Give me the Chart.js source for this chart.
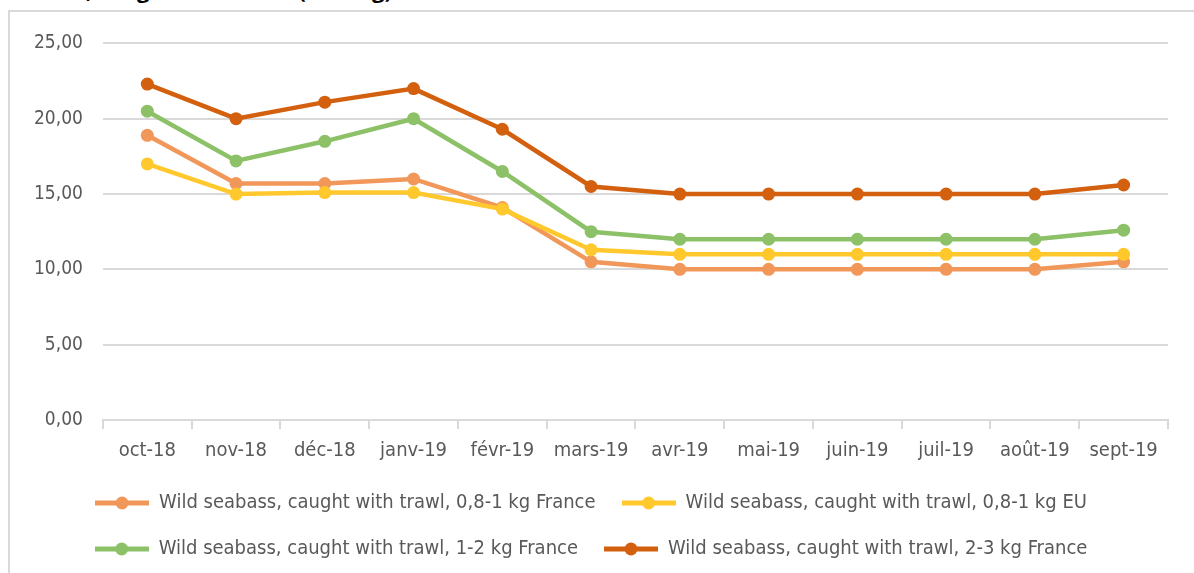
<!DOCTYPE html>
<html>
<head>
<meta charset="utf-8">
<script src="https://cdn.jsdelivr.net/npm/chart.js@4.4.1/dist/chart.umd.min.js"></script>
<style>
  html, body { margin: 0; padding: 0; background: #fff; overflow: hidden; }
  body { width: 1194px; height: 573px; position: relative; }
  #title { position: absolute; right: 802px; top: -26px; font: bold 22px "Open Sans", sans-serif; color: #000; white-space: nowrap; }
  #frame { position: absolute; left: 8px; top: 10px; width: 1186px; height: 563px; border-left: 2px solid #d9d9d9; border-top: 2px solid #d9d9d9; box-sizing: border-box; }
  #wrap { position: absolute; left: 0; top: 0; width: 1184px; height: 561px; }
</style>
</head>
<body>
<div id="title">Wild seabass, caught with trawl (EUR/kg)</div>
<div id="frame"><div id="wrap"><canvas id="priceChart"></canvas></div></div>
<script>
// Mois (axe des x)
const months = ['oct-18', 'nov-18', 'déc-18', 'janv-19', 'févr-19', 'mars-19', 'avr-19', 'mai-19', 'juin-19', 'juil-19', 'août-19', 'sept-19'];

const seriesNames = [
    'Wild seabass, caught with trawl, 0,8-1 kg France',
    'Wild seabass, caught with trawl, 0,8-1 kg EU',
    'Wild seabass, caught with trawl, 1-2 kg France',
    'Wild seabass, caught with trawl, 2-3 kg France'
];

// Prix (EUR/kg)
const france08 = [18.9, 15.7, 15.7, 16.0, 14.1, 10.5, 10.0, 10.0, 10.0, 10.0, 10.0, 10.5];
const eu08     = [17.0, 15.0, 15.1, 15.1, 14.0, 11.3, 11.0, 11.0, 11.0, 11.0, 11.0, 11.0];
const france12 = [20.5, 17.2, 18.5, 20.0, 16.5, 12.5, 12.0, 12.0, 12.0, 12.0, 12.0, 12.6];
const france23 = [22.3, 20.0, 21.1, 22.0, 19.3, 15.5, 15.0, 15.0, 15.0, 15.0, 15.0, 15.6];

const yTicks = [0, 5, 10, 15, 20, 25];

const colors = ['#F1975A', '#FFC92E', '#8CC168', '#D3600F'];

const fontFamily = '"DejaVu Sans Condensed", "Liberation Sans", sans-serif';

// petite image ligne + point pour la légende
function legendIcon(color) {
    const c = document.createElement('canvas');
    c.width = 54; c.height = 14;
    const g = c.getContext('2d');
    g.strokeStyle = color;
    g.lineWidth = 5;
    g.beginPath(); g.moveTo(0, 7); g.lineTo(54, 7); g.stroke();
    g.fillStyle = color;
    g.beginPath(); g.arc(27, 7, 6.5, 0, Math.PI * 2); g.fill();
    return c;
}

document.addEventListener('DOMContentLoaded', function() {
    const ctx = document.getElementById('priceChart').getContext('2d');
    const allData = [france08, eu08, france12, france23];

    new Chart(ctx, {
        type: 'line',
        data: {
            labels: months,
            datasets: allData.map(function(d, i) {
                return {
                    label: seriesNames[i],
                    data: d,
                    borderColor: colors[i],
                    backgroundColor: colors[i],
                    borderWidth: 4.5,
                    pointRadius: 6.5,
                    pointHoverRadius: 6.5,
                    pointBorderWidth: 0,
                    tension: 0,
                    order: 4 - i
                };
            })
        },
        options: {
            responsive: true,
            maintainAspectRatio: false,
            animation: false,
            layout: { padding: { left: 4, right: 26, top: 5, bottom: 4 } },
            scales: {
                y: {
                    min: 0,
                    max: 25,
                    afterBuildTicks: function(axis) {
                        axis.ticks = yTicks.map(function(v) { return { value: v }; });
                    },
                    border: { display: false },
                    grid: { color: '#d9d9d9', lineWidth: 2, drawTicks: false },
                    ticks: {
                        padding: 20,
                        color: '#595959',
                        font: { family: fontFamily, size: 19 },
                        callback: function(v) { return v.toFixed(2).replace('.', ','); }
                    }
                },
                x: {
                    offset: true,
                    afterFit: function(scale) { scale.height -= 6; },
                    border: { display: true, color: '#d9d9d9', width: 2 },
                    grid: { offset: true, drawOnChartArea: false, drawTicks: true, tickLength: 9, color: '#d9d9d9', lineWidth: 2 },
                    ticks: {
                        padding: 10,
                        maxRotation: 0,
                        autoSkip: false,
                        color: '#595959',
                        font: { family: fontFamily, size: 20 }
                    }
                }
            },
            plugins: {
                legend: {
                    display: true,
                    position: 'bottom',
                    labels: {
                        usePointStyle: true,
                        pointStyleWidth: 54,
                        padding: 26,
                        color: '#595959',
                        font: { family: fontFamily, size: 20 },
                        generateLabels: function(chart) {
                            return chart.data.datasets.map(function(ds, i) {
                                return {
                                    text: ds.label,
                                    pointStyle: legendIcon(colors[i]),
                                    fillStyle: colors[i],
                                    strokeStyle: colors[i],
                                    lineWidth: 0,
                                    fontColor: '#595959',
                                    datasetIndex: i,
                                    hidden: false
                                };
                            });
                        }
                    }
                },
                title: { display: false },
                tooltip: { enabled: false }
            }
        }
    });
});
</script>
</body>
</html>
